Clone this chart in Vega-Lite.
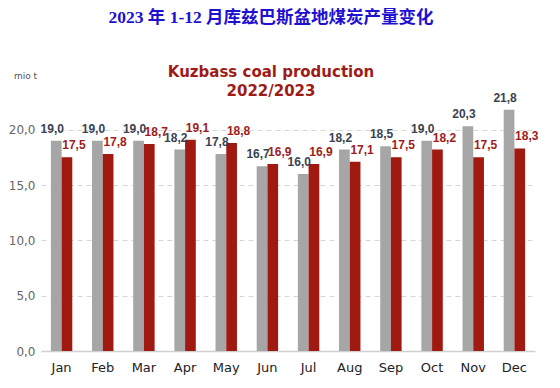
{
  "$schema": "https://vega.github.io/schema/vega-lite/v6.json",
  "width": 560,
  "height": 388,
  "autosize": {"type": "fit", "contains": "padding"},
  "padding": {"left": 8, "right": 23, "top": 8, "bottom": 14},
  "background": "white",
  "config": {
    "view": {"stroke": null},
    "locale": {"number": {"decimal": ",", "thousands": " ", "grouping": [3], "currency": ["", ""]}}
  },
  "title": {
    "text": "2023 年 1-12 月库兹巴斯盆地煤炭产量变化",
    "subtitle": ["Kuzbass coal production", "2022/2023"],
    "anchor": "middle",
    "font": "Liberation Serif, Noto Sans CJK SC",
    "fontSize": 17.5,
    "fontWeight": "bold",
    "color": "#1f10d0",
    "subtitleFont": "DejaVu Sans",
    "subtitleFontSize": 15,
    "subtitleFontWeight": "bold",
    "subtitleColor": "#9e1c17",
    "subtitleLineHeight": 19,
    "subtitlePadding": 39,
    "offset": -28,
    "dx": -17
  },
  "data": {
    "values": [
      {"month": "Jan", "year": "2022", "value": 19.0},
      {"month": "Jan", "year": "2023", "value": 17.5},
      {"month": "Feb", "year": "2022", "value": 19.0},
      {"month": "Feb", "year": "2023", "value": 17.8},
      {"month": "Mar", "year": "2022", "value": 19.0},
      {"month": "Mar", "year": "2023", "value": 18.7},
      {"month": "Apr", "year": "2022", "value": 18.2},
      {"month": "Apr", "year": "2023", "value": 19.1},
      {"month": "May", "year": "2022", "value": 17.8},
      {"month": "May", "year": "2023", "value": 18.8},
      {"month": "Jun", "year": "2022", "value": 16.7},
      {"month": "Jun", "year": "2023", "value": 16.9},
      {"month": "Jul", "year": "2022", "value": 16.0},
      {"month": "Jul", "year": "2023", "value": 16.9},
      {"month": "Aug", "year": "2022", "value": 18.2},
      {"month": "Aug", "year": "2023", "value": 17.1},
      {"month": "Sep", "year": "2022", "value": 18.5},
      {"month": "Sep", "year": "2023", "value": 17.5},
      {"month": "Oct", "year": "2022", "value": 19.0},
      {"month": "Oct", "year": "2023", "value": 18.2},
      {"month": "Nov", "year": "2022", "value": 20.3},
      {"month": "Nov", "year": "2023", "value": 17.5},
      {"month": "Dec", "year": "2022", "value": 21.8},
      {"month": "Dec", "year": "2023", "value": 18.3}
    ]
  },
  "encoding": {
    "x": {
      "field": "month",
      "type": "nominal",
      "sort": null,
      "scale": {"paddingInner": 0.48, "paddingOuter": 0.24},
      "axis": {
        "title": null,
        "labelAngle": 0,
        "labelFont": "DejaVu Sans",
        "labelFontSize": 13,
        "labelColor": "#222222",
        "labelPadding": 10,
        "ticks": false,
        "domainColor": "#d0d0d0",
        "domainWidth": 1.5
      }
    },
    "xOffset": {"field": "year", "type": "nominal"},
    "y": {
      "field": "value",
      "type": "quantitative",
      "scale": {"domain": [0, 22.5], "nice": false},
      "axis": {
        "title": "mio t",
        "titleAngle": 0,
        "titleX": -16,
        "titleY": -22,
        "titleAlign": "center",
        "titleFont": "DejaVu Sans",
        "titleFontSize": 9,
        "titleFontWeight": "normal",
        "titleColor": "#555555",
        "values": [0, 5, 10, 15, 20],
        "format": ".1f",
        "labelFont": "DejaVu Sans",
        "labelFontSize": 12,
        "labelColor": "#666666",
        "labelPadding": 6,
        "ticks": false,
        "domain": false,
        "grid": true,
        "gridDash": [5, 4],
        "gridColor": "#d6d6d6"
      }
    }
  },
  "layer": [
    {
      "mark": {"type": "bar", "width": {"band": 1}},
      "encoding": {
        "color": {
          "field": "year",
          "type": "nominal",
          "scale": {"domain": ["2022", "2023"], "range": ["#a6a6a6", "#a01a12"]},
          "legend": null
        }
      }
    },
    {
      "transform": [{"filter": "datum.year == '2022'"}],
      "mark": {"type": "text", "baseline": "bottom", "dy": -5, "dx": -4, "font": "Liberation Sans", "fontSize": 12, "fontWeight": "bold", "color": "#3b4252"},
      "encoding": {
        "text": {"field": "value", "type": "quantitative", "format": ".1f"}
      }
    },
    {
      "transform": [{"filter": "datum.year == '2023'"}],
      "mark": {"type": "text", "baseline": "bottom", "dy": -5, "dx": 7, "font": "Liberation Sans", "fontSize": 12, "fontWeight": "bold", "color": "#a01c1c"},
      "encoding": {
        "text": {"field": "value", "type": "quantitative", "format": ".1f"}
      }
    }
  ]
}
